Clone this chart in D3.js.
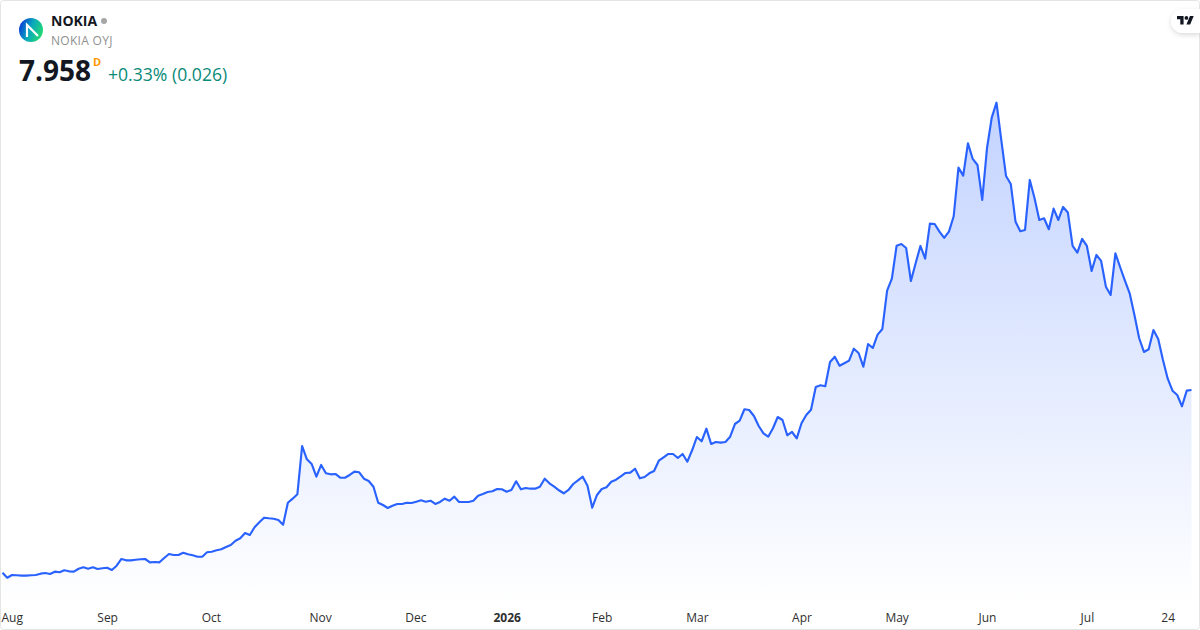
<!DOCTYPE html>
<html><head><meta charset="utf-8">
<script src="https://cdn.jsdelivr.net/npm/d3@7"></script>
<style>
html,body{margin:0;padding:0;background:#fff}
svg{display:block;font-family:"Open Sans","Noto Sans",sans-serif}
</style></head><body>
<div id="chart"></div>
<script>
const symbol = "NOKIA";
const company = "NOKIA OYJ";
const lastPrice = "7.958";
const intervalTag = "D";
const changeText = "+0.33% (0.026)";
const prices = [
3.654,3.536,3.600,3.593,3.584,3.584,3.593,3.600,3.631,3.647,3.624,3.678,3.664,3.711,3.687,3.678,3.748,3.781,3.748,3.781,
3.741,3.758,3.772,3.718,3.819,3.977,3.946,3.946,3.960,3.970,3.977,3.899,3.906,3.899,4.001,4.095,4.071,4.071,4.125,4.088,
4.064,4.031,4.031,4.135,4.149,4.182,4.205,4.260,4.307,4.408,4.465,4.590,4.542,4.724,4.842,4.950,4.936,4.926,4.896,4.785,
5.303,5.398,5.501,6.639,6.326,6.215,5.916,6.192,5.996,5.972,5.980,5.892,5.892,5.956,6.034,6.020,5.869,5.815,5.680,5.303,
5.249,5.179,5.233,5.273,5.273,5.303,5.296,5.327,5.360,5.327,5.350,5.273,5.320,5.398,5.350,5.445,5.320,5.320,5.320,5.350,
5.468,5.508,5.555,5.572,5.626,5.619,5.563,5.603,5.808,5.619,5.650,5.633,5.633,5.680,5.869,5.760,5.680,5.596,5.525,5.603,
5.744,5.831,5.916,5.704,5.186,5.485,5.626,5.666,5.798,5.845,5.925,6.003,6.010,6.104,5.878,5.909,5.996,6.050,6.293,6.373,
6.451,6.451,6.357,6.451,6.269,6.538,6.851,6.750,7.047,6.686,6.733,6.717,6.733,6.858,7.157,7.235,7.504,7.487,7.346,7.110,
6.938,6.858,7.056,7.322,7.252,6.891,6.969,6.820,7.174,7.370,7.494,8.029,8.069,8.046,8.618,8.743,8.531,8.587,8.649,8.931,
8.830,8.507,9.042,8.948,9.261,9.396,10.298,10.580,11.358,11.398,11.304,10.526,10.943,11.351,11.052,11.876,11.869,11.688,11.540,11.688,
12.051,13.196,13.007,13.770,13.401,13.259,12.435,13.652,14.373,14.727,13.848,13.000,12.812,11.923,11.697,11.728,12.906,12.475,11.963,12.003,
11.745,12.230,11.963,12.270,12.140,11.351,11.193,11.516,11.351,10.762,11.139,10.998,10.392,10.197,11.179,10.849,10.534,10.237,9.726,9.177,
8.854,8.917,9.372,9.160,8.665,8.225,7.942,7.841,7.574,7.942,7.958
];
const tickIndex = [0,22,43.8,66.8,86.8,106,126,146,168,188,207,228,245];
const tickLabels = ["Aug","Sep","Oct","Nov","Dec","2026","Feb","Mar","Apr","May","Jun","Jul","24"];

const W = 1200, H = 630, plotBottom = 606;
const svg = d3.select("#chart").append("svg").attr("width",W).attr("height",H);
const defs = svg.append("defs");

const x = d3.scaleLinear().domain([0,prices.length-1]).range([2.5,1191.5]);
const y = d3.scaleLinear().domain([3.6,7.958]).range([575,390]);

const grad = defs.append("linearGradient").attr("id","areaFill")
  .attr("gradientUnits","userSpaceOnUse").attr("x1",0).attr("x2",0)
  .attr("y1",y(d3.max(prices))).attr("y2",plotBottom);
grad.append("stop").attr("offset",0).attr("stop-color","#2962ff").attr("stop-opacity",0.28);
grad.append("stop").attr("offset",1).attr("stop-color","#2962ff").attr("stop-opacity",0.0);

const logoGrad = defs.append("linearGradient").attr("id","logoFill")
  .attr("x1",0).attr("y1",0.35).attr("x2",1).attr("y2",0.75);
logoGrad.append("stop").attr("offset",0).attr("stop-color","#0a3fd6");
logoGrad.append("stop").attr("offset",0.45).attr("stop-color","#0aa8bc");
logoGrad.append("stop").attr("offset",1).attr("stop-color","#24e06a");
defs.append("filter").attr("id","pillShadow").attr("x","-40%").attr("y","-40%").attr("width","180%").attr("height","200%")
  .append("feDropShadow").attr("dx",0).attr("dy",2).attr("stdDeviation",2.5).attr("flood-color","#000").attr("flood-opacity",0.14);

svg.append("path").datum(prices)
  .attr("fill","url(#areaFill)")
  .attr("d",d3.area().x((d,i)=>x(i)).y0(plotBottom).y1(d=>y(d)));
svg.append("path").datum(prices)
  .attr("fill","none").attr("stroke","#2962ff").attr("stroke-width",2.15)
  .attr("stroke-linejoin","round")
  .attr("d",d3.line().x((d,i)=>x(i)).y(d=>y(d)));

// x axis labels
const axis = d3.axisBottom(x).tickValues(tickIndex)
  .tickFormat((d,i)=>tickLabels[i]).tickSize(0).tickPadding(7);
const gx = svg.append("g").attr("transform",`translate(0,${plotBottom})`).call(axis);
gx.select(".domain").remove();
gx.selectAll("text").attr("font-family",'"Open Sans","Noto Sans",sans-serif')
  .attr("font-size",12).attr("fill","#2f2f2f")
  .attr("font-weight",(d,i)=>tickLabels[i]==="2026"?700:400);
gx.selectAll("text").filter((d,i)=>i===0).attr("text-anchor","start").attr("x",-1.5);

// frame
svg.append("rect").attr("x",0.5).attr("y",0.5).attr("width",W-1).attr("height",H-1).attr("rx",3)
  .attr("fill","none").attr("stroke","#e4e4e4");

// header
const g = svg.append("g");
g.append("circle").attr("cx",31).attr("cy",30).attr("r",12).attr("fill","url(#logoFill)");
g.append("path").attr("d","M27 37 V25 L38 36").attr("fill","none").attr("stroke","#fff").attr("stroke-width",2.2);
g.append("text").attr("x",51).attr("y",26).attr("font-size",14).attr("font-weight",700).attr("fill","#131722").text(symbol);
g.append("circle").attr("cx",104).attr("cy",21).attr("r",3).attr("fill","#a6a6a6");
g.append("text").attr("x",51).attr("y",45).attr("font-size",12).attr("letter-spacing",0.3).attr("fill","#8f8f8f").text(company);
g.append("text").attr("x",19).attr("y",81).attr("font-size",28).attr("font-weight",700).attr("fill","#131722").text(lastPrice);
g.append("text").attr("x",93).attr("y",66).attr("font-size",11).attr("font-weight",700).attr("fill","#ff9800").text(intervalTag);
g.append("text").attr("x",108).attr("y",81).attr("font-size",17.6).attr("fill","#0a8a78").text(changeText);

// TradingView badge
svg.append("path").attr("d","M1200 9 H1183 A12 12 0 0 0 1183 33 H1200 Z").attr("fill","#fff").attr("filter","url(#pillShadow)");
const tv = svg.append("g").attr("transform","translate(1177,14.2) scale(0.47)").attr("fill","#131722");
tv.append("path").attr("d","M14 22H7V11H0V4h14v18zM28 22h-8l7.5-18h8L28 22z");
tv.append("circle").attr("cx",20).attr("cy",8).attr("r",4);
</script>
</body></html>
